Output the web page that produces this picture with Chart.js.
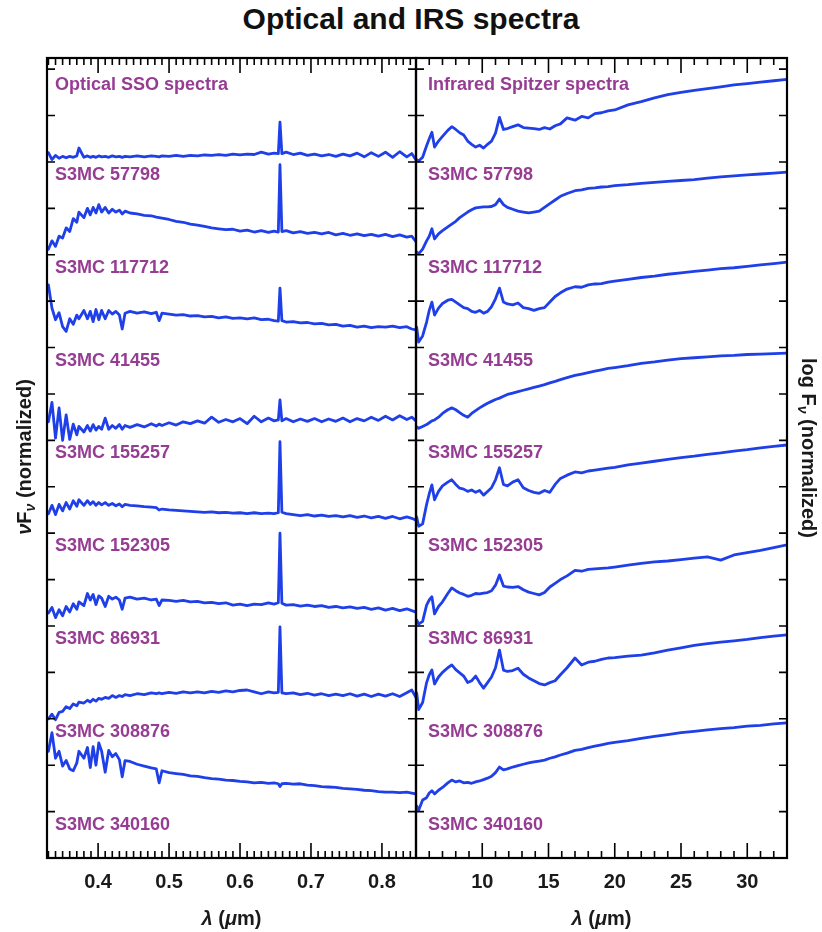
<!DOCTYPE html>
<html>
<head>
<meta charset="utf-8">
<title>Optical and IRS spectra</title>
<script src="https://cdn.jsdelivr.net/npm/chart.js@4/dist/chart.umd.min.js"></script>
<style>
  html, body { margin: 0; padding: 0; background: #fff; }
  #wrap { position: relative; width: 822px; height: 932px; overflow: hidden; }
  #title { position: absolute; left: 0; top: 2px; width: 822px; text-align: center;
           font: bold 30px "Liberation Sans", Arial, Helvetica, sans-serif; color: #111; }
  canvas { position: absolute; top: 0; }
</style>
</head>
<body>
<div id="wrap">
  <div id="title">Optical and IRS spectra</div>
  <canvas id="optical" width="418" height="932" style="left:0px"></canvas>
  <canvas id="infrared" width="408" height="932" style="left:414px"></canvas>
</div>
<script>
// ---- sources, stacked top to bottom ----
const sourceNames = ['S3MC 57798', 'S3MC 117712', 'S3MC 41455', 'S3MC 155257',
                     'S3MC 152305', 'S3MC 86931', 'S3MC 308876', 'S3MC 340160'];
// vertical offset added to each normalized spectrum
const stackOffsets = [15, 13, 11, 9, 7, 5, 3, 1];

// ---- optical (SSO) wavelength grid, micron ----
const opticalWave = [
  0.330,0.335,0.340,0.345,0.350,0.355,0.360,0.365,0.370,0.373,
  0.380,0.385,0.389,0.393,0.397,0.401,0.405,0.410,0.415,0.420,
  0.425,0.430,0.434,0.438,0.445,0.455,0.465,0.475,0.482,0.486,
  0.490,0.500,0.510,0.520,0.530,0.540,0.550,0.560,0.570,0.580,
  0.590,0.600,0.610,0.620,0.630,0.640,0.648,0.654,0.6563,0.659,
  0.665,0.675,0.685,0.695,0.705,0.715,0.725,0.735,0.745,0.755,
  0.765,0.775,0.785,0.795,0.805,0.815,0.825,0.835,0.842,0.848];

const opt57798 = [
  0.20,0.05,0.14,0.08,0.12,0.09,0.12,0.10,0.13,0.30,
  0.10,0.13,0.10,0.12,0.10,0.13,0.11,0.12,0.10,0.13,
  0.11,0.12,0.10,0.12,0.11,0.13,0.11,0.13,0.12,0.11,
  0.13,0.12,0.14,0.12,0.14,0.13,0.15,0.14,0.16,0.14,
  0.17,0.15,0.17,0.16,0.21,0.17,0.19,0.18,0.86,0.18,
  0.21,0.16,0.19,0.14,0.17,0.13,0.16,0.12,0.17,0.13,
  0.19,0.11,0.20,0.12,0.21,0.10,0.22,0.11,0.18,0.04];
const opt117712 = [
  0.12,0.30,0.18,0.40,0.36,0.58,0.50,0.78,0.70,0.92,
  0.80,1.00,0.86,1.02,0.90,1.08,0.92,1.02,0.90,0.98,
  0.92,0.96,0.88,0.94,0.90,0.88,0.85,0.84,0.81,0.80,
  0.79,0.76,0.72,0.70,0.66,0.64,0.61,0.58,0.56,0.54,
  0.55,0.51,0.53,0.49,0.52,0.48,0.51,0.49,1.94,0.50,
  0.52,0.47,0.50,0.46,0.48,0.45,0.48,0.43,0.46,0.42,
  0.45,0.41,0.44,0.40,0.44,0.39,0.43,0.38,0.40,0.28];
const opt41455 = [
  1.35,0.85,0.60,0.75,0.45,0.35,0.62,0.50,0.70,0.62,
  0.80,0.62,0.78,0.56,0.82,0.60,0.80,0.62,0.80,0.72,
  0.78,0.70,0.40,0.74,0.78,0.74,0.77,0.73,0.76,0.58,
  0.74,0.72,0.70,0.71,0.68,0.69,0.66,0.67,0.64,0.66,
  0.63,0.64,0.62,0.64,0.60,0.61,0.58,0.57,1.28,0.58,
  0.55,0.56,0.53,0.54,0.51,0.52,0.49,0.50,0.46,0.48,
  0.44,0.46,0.43,0.45,0.44,0.46,0.43,0.45,0.40,0.38];
const opt155257 = [
  0.40,0.82,0.05,0.70,0.00,0.55,0.02,0.35,0.12,0.30,
  0.18,0.32,0.20,0.34,0.22,0.30,0.24,0.48,0.24,0.32,
  0.26,0.34,0.24,0.32,0.28,0.34,0.29,0.36,0.31,0.35,
  0.32,0.38,0.33,0.40,0.36,0.42,0.37,0.50,0.39,0.45,
  0.40,0.47,0.36,0.52,0.40,0.48,0.42,0.44,0.87,0.42,
  0.47,0.40,0.46,0.41,0.47,0.40,0.46,0.41,0.48,0.40,
  0.47,0.42,0.50,0.43,0.52,0.44,0.53,0.45,0.50,0.42];
const opt152305 = [
  0.42,0.60,0.40,0.62,0.48,0.66,0.52,0.70,0.58,0.72,
  0.60,0.70,0.62,0.68,0.60,0.66,0.61,0.66,0.60,0.64,
  0.59,0.63,0.57,0.62,0.60,0.59,0.57,0.56,0.55,0.50,
  0.52,0.50,0.49,0.48,0.47,0.46,0.45,0.46,0.44,0.45,
  0.43,0.44,0.42,0.44,0.42,0.43,0.42,0.44,1.97,0.45,
  0.42,0.40,0.38,0.40,0.37,0.39,0.36,0.38,0.35,0.38,
  0.34,0.37,0.33,0.36,0.32,0.36,0.31,0.35,0.32,0.28];
const opt86931 = [
  0.28,0.40,0.18,0.35,0.22,0.42,0.30,0.48,0.36,0.52,
  0.44,0.70,0.56,0.68,0.46,0.65,0.60,0.42,0.64,0.58,
  0.62,0.56,0.36,0.60,0.62,0.58,0.60,0.56,0.58,0.44,
  0.56,0.55,0.53,0.55,0.52,0.53,0.50,0.51,0.48,0.50,
  0.45,0.47,0.44,0.47,0.46,0.50,0.47,0.50,2.00,0.49,
  0.45,0.46,0.43,0.45,0.42,0.44,0.40,0.42,0.39,0.41,
  0.38,0.40,0.36,0.39,0.34,0.38,0.33,0.37,0.33,0.30];
const opt308876 = [
  0.00,0.10,-0.02,0.14,0.16,0.26,0.22,0.32,0.28,0.36,
  0.34,0.40,0.36,0.42,0.38,0.44,0.42,0.46,0.44,0.50,
  0.46,0.50,0.48,0.52,0.50,0.54,0.52,0.56,0.54,0.56,
  0.54,0.57,0.55,0.58,0.56,0.58,0.56,0.59,0.57,0.60,
  0.58,0.61,0.62,0.58,0.54,0.58,0.56,0.57,1.98,0.56,
  0.54,0.56,0.52,0.55,0.51,0.54,0.50,0.53,0.50,0.54,
  0.49,0.53,0.48,0.53,0.49,0.54,0.48,0.56,0.62,0.46];
const opt340160 = [
  1.30,1.70,1.15,1.30,0.98,1.10,0.92,0.88,1.05,1.30,
  1.15,1.38,0.95,1.40,1.00,1.48,1.30,0.85,1.32,1.18,
  1.25,1.12,0.75,1.10,1.08,1.02,0.98,0.94,0.92,0.62,
  0.88,0.84,0.82,0.80,0.77,0.76,0.73,0.71,0.70,0.68,
  0.67,0.65,0.64,0.62,0.63,0.61,0.62,0.60,0.54,0.60,
  0.61,0.59,0.60,0.57,0.56,0.54,0.53,0.52,0.50,0.49,
  0.48,0.46,0.45,0.43,0.42,0.42,0.41,0.42,0.40,0.38];

// ---- Spitzer IRS wavelength grid, micron ----
const irWave = [5.05,
  5.2,5.5,5.8,6.0,6.2,6.4,6.7,7.0,7.4,7.7,
  8.0,8.3,8.6,8.9,9.2,9.5,9.8,10.1,10.4,10.7,
  11.0,11.3,11.6,11.9,12.3,12.7,13.1,13.5,13.9,14.3,
  14.7,15.1,15.5,15.9,16.4,17.0,17.5,18.0,18.5,19,
  19.5,20,21,22,23,24,25,26,27,28,
  29,30,31,32,33];

const ir57798 = [0.05,
  0.02,0.10,0.35,0.50,0.64,0.32,0.45,0.55,0.68,0.76,
  0.70,0.63,0.58,0.45,0.38,0.32,0.36,0.30,0.38,0.45,
  0.62,0.96,0.70,0.72,0.76,0.80,0.74,0.73,0.72,0.70,
  0.74,0.71,0.78,0.82,0.95,0.90,0.98,0.95,1.04,1.06,
  1.10,1.12,1.23,1.30,1.38,1.45,1.50,1.54,1.58,1.62,
  1.66,1.69,1.72,1.75,1.78];
const ir117712 = [0.06,
  0.02,0.12,0.30,0.40,0.56,0.34,0.45,0.52,0.60,0.66,
  0.72,0.80,0.86,0.92,0.97,1.01,1.02,1.03,1.03,1.04,
  1.08,1.20,1.08,1.02,0.98,0.94,0.92,0.90,0.92,0.94,
  1.02,1.10,1.18,1.26,1.32,1.38,1.40,1.43,1.44,1.46,
  1.47,1.49,1.51,1.54,1.56,1.58,1.60,1.62,1.65,1.68,
  1.70,1.72,1.74,1.76,1.78];
const ir41455 = [0.44,
  0.12,0.25,0.55,0.80,0.98,0.70,0.85,0.95,1.02,1.04,
  0.98,0.92,0.86,0.84,0.78,0.76,0.80,0.74,0.78,0.88,
  1.05,1.28,0.98,0.94,0.92,0.96,0.86,0.84,0.80,0.84,
  0.86,0.98,1.10,1.18,1.26,1.31,1.30,1.35,1.37,1.38,
  1.41,1.43,1.47,1.51,1.54,1.58,1.61,1.64,1.67,1.70,
  1.72,1.75,1.78,1.81,1.84];
const ir155257 = [0.29,
  0.26,0.30,0.34,0.38,0.42,0.44,0.50,0.58,0.66,0.70,
  0.66,0.60,0.54,0.50,0.58,0.64,0.70,0.75,0.80,0.84,
  0.88,0.91,0.95,0.99,1.02,1.05,1.08,1.11,1.14,1.17,
  1.20,1.24,1.27,1.31,1.35,1.40,1.43,1.46,1.49,1.52,
  1.55,1.57,1.61,1.66,1.69,1.73,1.76,1.78,1.80,1.82,
  1.83,1.85,1.86,1.87,1.88];
const ir152305 = [0.35,
  0.15,0.20,0.62,0.85,1.04,0.72,0.90,1.02,1.10,1.15,
  1.05,0.97,0.95,0.90,0.93,0.88,0.92,0.82,0.90,0.98,
  1.15,1.41,1.05,1.02,1.10,1.15,0.98,0.92,0.88,0.86,
  0.92,0.88,1.05,1.18,1.25,1.32,1.30,1.34,1.36,1.38,
  1.40,1.42,1.47,1.51,1.55,1.59,1.63,1.66,1.70,1.73,
  1.77,1.80,1.84,1.87,1.90];
const ir86931 = [0.13,
  0.04,0.10,0.45,0.56,0.63,0.26,0.42,0.52,0.70,0.82,
  0.76,0.71,0.68,0.64,0.66,0.70,0.69,0.71,0.72,0.76,
  0.88,1.10,0.86,0.84,0.83,0.85,0.78,0.73,0.70,0.67,
  0.72,0.84,0.92,1.00,1.08,1.20,1.18,1.22,1.23,1.24,
  1.25,1.27,1.31,1.35,1.38,1.40,1.43,1.46,1.49,1.42,
  1.53,1.58,1.63,1.69,1.75];
const ir308876 = [0.56,
  0.20,0.35,0.78,0.95,1.05,0.75,0.90,1.00,1.10,1.16,
  1.06,0.99,0.92,0.78,0.82,0.92,0.78,0.66,0.78,0.90,
  1.10,1.48,1.05,1.02,1.04,1.09,0.96,0.88,0.82,0.76,
  0.73,0.78,0.82,0.95,1.10,1.31,1.16,1.22,1.24,1.28,
  1.31,1.32,1.35,1.37,1.42,1.48,1.53,1.58,1.62,1.65,
  1.68,1.71,1.75,1.78,1.81];
const ir340160 = [0.12,
  0.03,0.25,0.30,0.40,0.45,0.38,0.46,0.52,0.62,0.68,
  0.64,0.66,0.62,0.63,0.61,0.64,0.66,0.69,0.72,0.76,
  0.84,0.96,0.90,0.92,0.96,0.99,1.02,1.05,1.07,1.09,
  1.11,1.15,1.18,1.22,1.26,1.32,1.34,1.38,1.41,1.44,
  1.47,1.49,1.53,1.58,1.62,1.66,1.70,1.73,1.76,1.79,
  1.81,1.84,1.86,1.89,1.91];

const opticalSpectra = [opt57798, opt117712, opt41455, opt155257, opt152305, opt86931, opt308876, opt340160];
const irSpectra = [ir57798, ir117712, ir41455, ir155257, ir152305, ir86931, ir308876, ir340160];

// tick labels on the wavelength axes
const opticalTicks = [0.4, 0.5, 0.6, 0.7, 0.8];
const irTicks = [10, 15, 20, 25, 30];

// ---- styling ----
const FONT = '"Liberation Sans", Arial, Helvetica, sans-serif';
const LINE_BLUE = '#1f3fe8';
const LABEL_PURPLE = '#963d93';
const Y_MAX = 17.24;
const NAME_SHIFT = 0.28;   // source name sits just under its spectrum
const PANEL_TITLE_Y = 16.66;

function buildDatasets(wave, spectra) {
  return spectra.map((vals, i) => ({
    label: sourceNames[i],
    data: vals.map((v, j) => ({ x: wave[j], y: v + stackOffsets[i] })),
    borderColor: LINE_BLUE,
    borderWidth: 2.8,
    pointRadius: 0,
    tension: 0,
    fill: false,
    borderJoinStyle: 'round',
    borderCapStyle: 'round'
  }));
}

function drawParts(ctx, parts, size) {
  // parts drawn on a baseline centred at the origin
  let total = 0;
  const widths = parts.map(p => {
    ctx.font = `${p.italic ? 'italic ' : ''}bold ${p.sub ? Math.round(size * 0.7) : size}px ${FONT}`;
    const w = ctx.measureText(p.t).width;
    total += w;
    return w;
  });
  let x = -total / 2;
  parts.forEach((p, i) => {
    ctx.font = `${p.italic ? 'italic ' : ''}bold ${p.sub ? Math.round(size * 0.7) : size}px ${FONT}`;
    ctx.fillText(p.t, x, p.sub ? size * 0.3 : 0);
    x += widths[i];
  });
}

function panelPlugin(cfg) {
  return {
    id: 'panel_' + cfg.key,
    afterDatasetsDraw(chart) {
      const { ctx, chartArea: a, scales } = chart;
      const xs = scales.x, ys = scales.y;
      ctx.save();
      ctx.strokeStyle = '#000';
      ctx.lineWidth = 1.6;
      ctx.beginPath();
      // wavelength ticks, top and bottom, pointing inward
      for (let i = cfg.minorStart; i <= cfg.minorEnd; i++) {
        const px = xs.getPixelForValue(i / cfg.minorDiv);
        const len = (i % cfg.majorEvery === 0) ? 15 : 7;
        ctx.moveTo(px, a.bottom); ctx.lineTo(px, a.bottom - len);
        ctx.moveTo(px, a.top); ctx.lineTo(px, a.top + len);
      }
      // flux ticks on both sides
      for (let k = 1; k <= Math.floor(ys.max); k++) {
        const py = ys.getPixelForValue(k);
        ctx.moveTo(a.left, py); ctx.lineTo(a.left + 8, py);
        ctx.moveTo(a.right, py); ctx.lineTo(a.right - 8, py);
      }
      ctx.stroke();
      ctx.lineWidth = 2.2;
      ctx.strokeRect(a.left, a.top, a.right - a.left, a.bottom - a.top);

      // panel heading and source names
      ctx.fillStyle = LABEL_PURPLE;
      ctx.font = `bold 18px ${FONT}`;
      ctx.textBaseline = 'middle';
      ctx.textAlign = 'left';
      ctx.fillText(cfg.heading, a.left + cfg.inset, ys.getPixelForValue(PANEL_TITLE_Y));
      sourceNames.forEach((n, i) => {
        ctx.fillText(n, a.left + cfg.inset, ys.getPixelForValue(stackOffsets[i] - NAME_SHIFT));
      });

      // x-axis title
      ctx.fillStyle = '#1a1a1a';
      ctx.textBaseline = 'alphabetic';
      ctx.save();
      ctx.translate((a.left + a.right) / 2, 925);
      drawParts(ctx, [{ t: 'λ', italic: true }, { t: ' (' }, { t: 'μ', italic: true }, { t: 'm)' }], 20);
      ctx.restore();

      // y-axis title
      ctx.save();
      ctx.translate(cfg.yTitleX, (a.top + a.bottom) / 2 + cfg.yTitleShift);
      ctx.rotate(cfg.yTitleRot);
      ctx.textBaseline = 'middle';
      drawParts(ctx, cfg.yTitle, 20);
      ctx.restore();
      ctx.restore();
    }
  };
}

function makeChart(id, wave, spectra, xMin, xMax, ticks, fmt, padding, cfg) {
  return new Chart(document.getElementById(id), {
    type: 'line',
    data: { datasets: buildDatasets(wave, spectra) },
    options: {
      responsive: false,
      animation: false,
      devicePixelRatio: 1,
      layout: { padding },
      plugins: { legend: { display: false }, tooltip: { enabled: false } },
      scales: {
        x: {
          type: 'linear', min: xMin, max: xMax,
          grid: { display: false, drawTicks: false },
          border: { display: false },
          afterBuildTicks: s => { s.ticks = ticks.map(v => ({ value: v })); },
          afterFit: s => { s.height = 74; },
          ticks: {
            autoSkip: false, maxRotation: 0, padding: 12,
            color: '#1a1a1a',
            font: { family: FONT, size: 20, weight: 'bold' },
            callback: fmt
          }
        },
        y: { display: false, min: 0, max: Y_MAX }
      }
    },
    plugins: [panelPlugin(cfg)]
  });
}

makeChart('optical', opticalWave, opticalSpectra, 0.328, 0.848, opticalTicks,
  v => v.toFixed(1), { left: 47, top: 58, right: 2, bottom: 0 },
  { key: 'opt', minorStart: 33, minorEnd: 84, minorDiv: 100, majorEvery: 10,
    heading: 'Optical SSO spectra', inset: 8, yTitleX: 25, yTitleShift: -1, yTitleRot: -Math.PI / 2,
    yTitle: [{ t: 'ν', italic: true }, { t: 'F' }, { t: 'ν', sub: true, italic: true }, { t: ' (normalized)' }] });

makeChart('infrared', irWave, irSpectra, 5.0, 33.0, irTicks,
  v => String(v), { left: 2, top: 58, right: 35, bottom: 0 },
  { key: 'ir', minorStart: 5, minorEnd: 33, minorDiv: 1, majorEvery: 5,
    heading: 'Infrared Spitzer spectra', inset: 12, yTitleX: 394, yTitleShift: -10, yTitleRot: Math.PI / 2,
    yTitle: [{ t: 'log F' }, { t: 'ν', sub: true, italic: true }, { t: ' (normalized)' }] });
</script>
</body>
</html>
